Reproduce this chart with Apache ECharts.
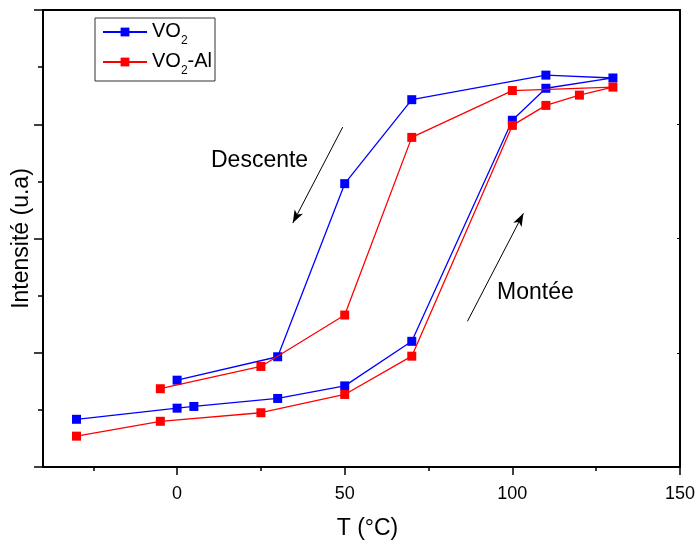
<!DOCTYPE html>
<html>
<head>
<meta charset="utf-8">
<script src="https://cdn.jsdelivr.net/npm/echarts@6/dist/echarts.min.js"></script>
<style>html,body{margin:0;padding:0;background:#fff}#c{width:698px;height:545px}</style>
</head>
<body>
<div id="c"></div>
<script>
// Data
const vo2T = [-30, 0, 5, 30, 50, 70, 100, 110, 130, 110, 70, 50, 30, 0];
const vo2I = [0.835, 1.03, 1.06, 1.20, 1.42, 2.20, 6.07, 6.63, 6.81, 6.86, 6.43, 4.96, 1.93, 1.52];
const vo2AlT = [-30, -5, 25, 50, 70, 100, 110, 120, 130, 100, 70, 50, 25, -5];
const vo2AlI = [0.54, 0.80, 0.95, 1.27, 1.94, 5.98, 6.33, 6.51, 6.65, 6.59, 5.77, 2.66, 1.76, 1.37];
const xMajorTicks = [0, 50, 100, 150];
const xMinorTicks = [-25, 25, 75, 125];
const seriesNames = ['VO2', 'VO2-Al'];
const legendLabels = {'VO2': '{a|VO}{s|2}', 'VO2-Al': '{a|VO}{s|2}{a|-Al}'};
const arrowDescente = [[49.4, 5.95], [34.5, 4.27]];
const arrowMontee = [[86.6, 2.55], [103.3, 4.44]];

const FONT = 'Arial, "Liberation Sans", sans-serif';
const chart = echarts.init(document.getElementById('c'), null, {renderer: 'canvas'});
const pairs = (xs, ys) => xs.map((x, i) => [x, ys[i]]);

const option = {
  animation: false,
  backgroundColor: '#fff',
  textStyle: {fontFamily: FONT},
  grid: {left: 43, right: 17, top: 10, bottom: 77, containLabel: false},
  legend: {
    data: seriesNames,
    left: 95, top: 18,
    orient: 'vertical',
    borderColor: '#333', borderWidth: 1, borderRadius: 0,
    padding: [3, 3, 4, 7],
    itemWidth: 44, itemHeight: 11, itemGap: 4,
    formatter: n => legendLabels[n],
    textStyle: {
      fontFamily: FONT, color: '#000',
      rich: {
        a: {fontSize: 20, fontFamily: FONT, color: '#000', lineHeight: 22, verticalAlign: 'top'},
        s: {fontSize: 12, fontFamily: FONT, color: '#000', lineHeight: 12, verticalAlign: 'top', padding: [14, 0, 0, 0]}
      }
    }
  },
  xAxis: [{
    type: 'value', min: -40, max: 150,
    name: 'T (°C)', nameLocation: 'middle', nameGap: 50,
    nameTextStyle: {fontSize: 23, color: '#000', fontFamily: FONT, padding: [0, 0, 0, 12]},
    axisLine: {show: true, onZero: false, lineStyle: {color: '#000', width: 2}},
    axisTick: {show: true, inside: false, length: 8, customValues: xMajorTicks, lineStyle: {color: '#000', width: 1.5}},
    axisLabel: {show: true, customValues: xMajorTicks, margin: 18, fontSize: 18, color: '#000', fontFamily: FONT},
    splitLine: {show: false}
  }, {
    type: 'value', min: -40, max: 150, position: 'bottom',
    axisLine: {show: false},
    axisTick: {show: true, length: 4, customValues: xMinorTicks, lineStyle: {color: '#000', width: 1.5}},
    axisLabel: {show: false},
    splitLine: {show: false}
  }, {
    type: 'value', min: -40, max: 150, position: 'top',
    axisLine: {show: true, onZero: false, lineStyle: {color: '#000', width: 2}},
    axisTick: {show: false},
    axisLabel: {show: false},
    splitLine: {show: false}
  }],
  yAxis: [{
    type: 'value', min: 0, max: 8, interval: 2,
    name: 'Intensité (u.a)', nameLocation: 'middle', nameGap: 10,
    nameTextStyle: {fontSize: 23, color: '#000', fontFamily: FONT},
    axisLine: {show: true, onZero: false, lineStyle: {color: '#000', width: 2}},
    axisTick: {show: true, length: 9, lineStyle: {color: '#000', width: 1.5}},
    minorTick: {show: true, splitNumber: 2, length: 5, lineStyle: {color: '#000', width: 1.5}},
    axisLabel: {show: false},
    splitLine: {show: false}
  }, {
    type: 'value', min: 0, max: 8, interval: 2, position: 'right',
    axisLine: {show: true, onZero: false, lineStyle: {color: '#000', width: 2}},
    axisTick: {show: true, inside: true, length: 3, lineStyle: {color: '#000', width: 1}},
    minorTick: {show: false},
    axisLabel: {show: false},
    splitLine: {show: false}
  }],
  series: [{
    name: 'VO2', type: 'line', xAxisIndex: 0, yAxisIndex: 0,
    data: pairs(vo2T, vo2I),
    symbol: 'rect', symbolSize: 9, showAllSymbol: true,
    color: '#0000ff',
    lineStyle: {color: '#0000ff', width: 1.3},
    itemStyle: {color: '#0000ff'},
    z: 3
  }, {
    name: 'VO2-Al', type: 'line', xAxisIndex: 0, yAxisIndex: 0,
    data: pairs(vo2AlT, vo2AlI),
    symbol: 'rect', symbolSize: 9, showAllSymbol: true,
    color: '#ff0000',
    lineStyle: {color: '#ff0000', width: 1.3},
    itemStyle: {color: '#ff0000'},
    z: 4
  }, {
    name: 'arrows', type: 'line', xAxisIndex: 0, yAxisIndex: 0, data: [],
    markLine: {
      silent: true, animation: false,
      symbol: ['none', 'arrow'], symbolSize: [7, 13],
      label: {show: false},
      lineStyle: {color: '#000', width: 1, type: 'solid'},
      data: [
        [{coord: arrowDescente[0]}, {coord: arrowDescente[1]}],
        [{coord: arrowMontee[0]}, {coord: arrowMontee[1]}]
      ]
    }
  }],
  graphic: [
    {type: 'text', left: 211, top: 149, style: {text: 'Descente', fontSize: 23, fontFamily: FONT, fill: '#000'}},
    {type: 'text', left: 497, top: 281, style: {text: 'Montée', fontSize: 23, fontFamily: FONT, fill: '#000'}}
  ]
};
chart.setOption(option);
</script>
</body>
</html>
